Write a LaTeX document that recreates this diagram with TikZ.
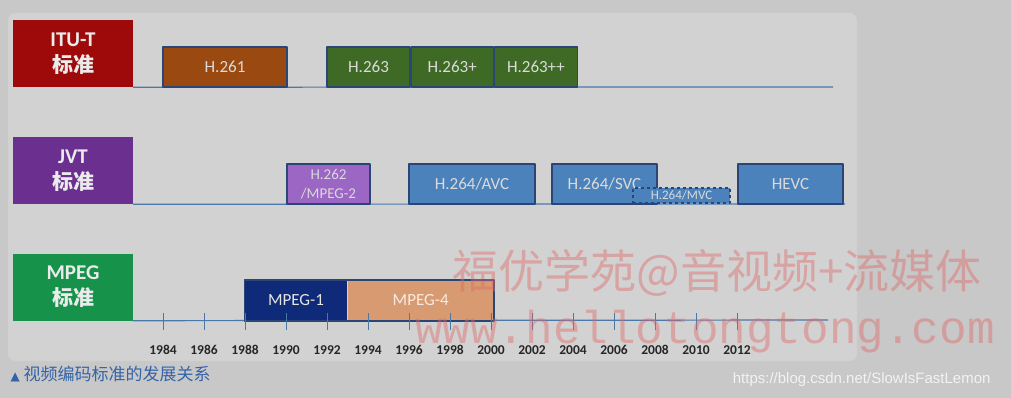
\documentclass[tikz,border=0pt]{standalone}
\usepackage{fontspec}
\usetikzlibrary{positioning}
\setmainfont{Carlito}
\newfontfamily\cjk{Noto Sans CJK SC}
\newfontfamily\urlfont{Liberation Sans}
\newfontfamily\wmfont{Liberation Mono}
\newfontfamily\symfont{DejaVu Sans}
\definecolor{outerbg}{HTML}{C8C8C8}
\definecolor{panelbg}{HTML}{D2D2D2}
\definecolor{axisblue}{HTML}{4A78A8}
\definecolor{edgenavy}{HTML}{2A4676}
\definecolor{ituRed}{HTML}{9E0A0A}
\definecolor{jvtPurple}{HTML}{6A2F8F}
\definecolor{mpegGreen}{HTML}{16924A}
\definecolor{hBrown}{HTML}{9A4A10}
\definecolor{hGreen}{HTML}{3F6A25}
\definecolor{hLilac}{HTML}{9B66C4}
\definecolor{hBlue}{HTML}{4C82BB}
\definecolor{mNavy}{HTML}{0E2A78}
\definecolor{mSalmon}{HTML}{D89A70}
\definecolor{boxtext}{HTML}{DADADA}
\definecolor{capblue}{HTML}{3463A8}
\definecolor{wmred}{HTML}{E06A6A}
\tikzset{
  orgbox/.style={rectangle, minimum width=120pt, minimum height=67pt, inner sep=0pt,
    text=white!92!black, align=center, font=\fontsize{21}{26}\selectfont\bfseries},
  stdbox/.style={rectangle, draw=edgenavy, line width=1.2pt, minimum height=40pt, inner sep=0pt,
    text=boxtext, align=center, font=\fontsize{17}{20}\selectfont},
  axisline/.style={draw=axisblue, line width=1.2pt},
  yearlabel/.style={text=black!85, font=\fontsize{13.5}{14}\selectfont\bfseries},
}
\begin{document}
\begin{tikzpicture}[x=1pt, y=-1pt, line join=round]
\useasboundingbox[fill=outerbg] (0,0) rectangle (1011,398);
\draw[fill=panelbg, draw=black!18, rounded corners=8pt] (8,13) rectangle (857,361);

% organisations
\node[orgbox, fill=ituRed] (itu) at (73,53.5) {ITU-T\\{\cjk\bfseries 标准}};
\node[orgbox, fill=jvtPurple] (jvt) at (73,170.5) {JVT\\{\cjk\bfseries 标准}};
\node[orgbox, fill=mpegGreen] (mpeg) at (73,287) {MPEG\\{\cjk\bfseries 标准}};

% time lines
\coordinate (ituend) at (833,87);
\coordinate (jvtend) at (845,204);
\coordinate (mpegend) at (828,320);
\draw[axisline] (itu.south east) -- (ituend);
\draw[axisline] (jvt.south east) -- (jvtend);
\draw[axisline] (mpeg.south east) -- (mpegend);

% ITU-T
\node[stdbox, fill=hBrown, minimum width=124pt] (h261) at (225,67) {H.261};
\node[stdbox, fill=hGreen, minimum width=83pt] (h263) at (368.5,67) {H.263};
\node[stdbox, fill=hGreen, minimum width=82pt, right=0pt of h263] (h263p) {H.263+};
\node[stdbox, fill=hGreen, minimum width=83pt, right=0pt of h263p] (h263pp) {H.263++};

% JVT
\node[stdbox, fill=hLilac, minimum width=83pt, font=\fontsize{15}{19}\selectfont] (h262) at (328.5,184) {H.262\\/MPEG-2};
\node[stdbox, fill=hBlue, minimum width=126pt] (avc) at (472,184) {H.264/AVC};
\node[stdbox, fill=hBlue, minimum width=105pt] (svc) at (604.5,184) {H.264/SVC};
\node[stdbox, fill=hBlue, minimum width=97pt, minimum height=15pt, dashed,
  font=\fontsize{13}{14}\selectfont] (mvc) at (681.5,195.5) {H.264/MVC};
\node[stdbox, fill=hBlue, minimum width=105pt] (hevc) at (790.5,184) {HEVC};

% MPEG
\node[stdbox, draw=none, fill=mNavy, text=white!90!black, minimum width=102pt] (mpeg1) at (296,300.5) {MPEG-1};
\node[stdbox, draw=none, fill=mSalmon, text=white!80!mSalmon, minimum width=145pt, right=0pt of mpeg1] (mpeg4) {MPEG-4};
\draw[edgenavy, line width=1.6pt] (mpeg1.north west) rectangle (mpeg4.south east);

% years
\foreach \yr in {1984,1986,...,2012}{
  \draw[axisblue, line width=1pt] ({163+(\yr-1984)*20.5},313) -- ({163+(\yr-1984)*20.5},330);
  \node[yearlabel] (y\yr) at ({163+(\yr-1984)*20.5},350) {\yr};
}

% caption and marks
\node[anchor=west, text=capblue, font=\fontsize{17}{18}\selectfont] (caption) at (7,374)
  {{\symfont\fontsize{12}{12}\selectfont ▲} {\cjk 视频编码标准的发展关系}};
\node[text=wmred, opacity=0.45, font=\cjk\fontsize{46}{48}\selectfont] (wmcn) at (717,273) {福优学苑@音视频+流媒体};
\node[text=wmred, opacity=0.45, font=\wmfont\fontsize{46}{48}\selectfont] (wmen) at (705,332) {www.hellotongtong.com};
\node[anchor=east, text=white!95!black, font=\urlfont\fontsize{15}{16}\selectfont] (url) at (994,380)
  {https://blog.csdn.net/SlowIsFastLemon};
\end{tikzpicture}
\end{document}
